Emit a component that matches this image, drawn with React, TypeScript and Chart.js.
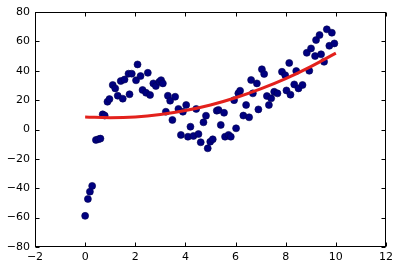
import React, { useEffect, useRef } from 'react';
import { Chart, registerables } from 'chart.js';

Chart.register(...registerables);

const pointX = [
  0.0, 0.11, 0.19, 0.28, 0.43, 0.53, 0.61, 0.7, 0.78, 0.89,
  0.97, 1.1, 1.2, 1.3, 1.42, 1.5, 1.57, 1.73, 1.77, 1.86,
  2.03, 2.09, 2.21, 2.29, 2.43, 2.5, 2.59, 2.72, 2.82, 2.96,
  3.03, 3.1, 3.22, 3.3, 3.39, 3.48, 3.59, 3.72, 3.82, 3.9,
  4.03, 4.1, 4.2, 4.32, 4.43, 4.52, 4.61, 4.72, 4.82, 4.89,
  4.99, 5.09, 5.25, 5.32, 5.41, 5.54, 5.58, 5.72, 5.81, 5.94,
  6.02, 6.11, 6.18, 6.31, 6.42, 6.54, 6.62, 6.69, 6.85, 6.91,
  7.05, 7.14, 7.25, 7.33, 7.42, 7.54, 7.67, 7.85, 7.98, 8.03,
  8.14, 8.19, 8.34, 8.42, 8.51, 8.67, 8.84, 8.94, 9.01, 9.17,
  9.21, 9.35, 9.41, 9.53, 9.64, 9.74, 9.84, 9.94,
];
const pointY = [
  -58.8, -47.3, -42.3, -38.4, -7.1, -6.6, -6.2, 10.3, 9.5, 18.9,
  20.7, 30.3, 28, 23, 33, 21, 34, 38, 24, 38,
  33.5, 44.3, 36.4, 26.9, 25, 38.6, 23.5, 31.4, 29.6, 32.5,
  33.6, 31.4, 12.1, 23, 19.6, 6.5, 22.3, 14, -3.7, 12.1,
  16.7, -4.9, 1.9, -4.4, 14, -3.1, -8.7, 4.9, 9.4, -12.8,
  -8.3, -6.7, 12.8, 13.3, 3.1, 11.4, -4.9, -3.7, -4.9, 20,
  0.8, 24.6, 26.4, 9.5, 16.7, 8.3, 33.7, 24.6, 31.4, 13.7,
  41, 37.8, 22.8, 16.7, 21.2, 25.7, 24.6, 39.3, 37, 26.6,
  45.3, 23.7, 30.7, 39.8, 28, 30.3, 52.2, 40, 55.2, 50,
  60.9, 64.3, 51.2, 46.1, 68.2, 57, 65.9, 58.6,
];

const fitX = [0, 1, 2, 3, 4, 5, 6, 7, 8, 9, 10];
const fitY = [8.5, 8.0, 8.5, 10.2, 12.9, 16.7, 21.6, 27.6, 34.6, 42.8, 52.0];

const xTicks = [-2, 0, 2, 4, 6, 8, 10, 12];
const yTicks = [-80, -60, -40, -20, 0, 20, 40, 60, 80];

const framePlugin = {
  id: 'frame',
  afterDatasetsDraw(chart: any) {
    const { ctx, chartArea: a, scales } = chart;
    const L = Math.round(a.left) + 0.5;
    const R = Math.round(a.right) - 0.5;
    const T = Math.round(a.top) + 0.5;
    const B = Math.round(a.bottom) - 0.5;
    ctx.save();
    ctx.strokeStyle = '#000';
    ctx.lineWidth = 1;
    ctx.beginPath();
    const len = 4;
    for (const v of xTicks) {
      const px = Math.round(scales.x.getPixelForValue(v)) + 0.5;
      ctx.moveTo(px, B);
      ctx.lineTo(px, B - len);
      ctx.moveTo(px, T);
      ctx.lineTo(px, T + len);
    }
    for (const v of yTicks) {
      const py = Math.round(scales.y.getPixelForValue(v)) + 0.5;
      ctx.moveTo(L, py);
      ctx.lineTo(L + len, py);
      ctx.moveTo(R, py);
      ctx.lineTo(R - len, py);
    }
    ctx.stroke();
    ctx.strokeRect(L, T, R - L, B - T);
    ctx.restore();
  },
};

const fmt = (v: any) => String(v).replace('-', '\u2212');

export default function App() {
  const ref = useRef<HTMLCanvasElement | null>(null);
  useEffect(() => {
    if (!ref.current) return;
    const chart = new Chart(ref.current, {
      type: 'scatter',
      data: {
        datasets: [
          {
            type: 'line',
            data: fitX.map((x, i) => ({ x, y: fitY[i] })),
            borderColor: '#e3211c',
            borderWidth: 3,
            pointRadius: 0,
            tension: 0.4,
            fill: false,
            order: 0,
          } as any,
          {
            type: 'scatter',
            data: pointX.map((x, i) => ({ x, y: pointY[i] })),
            backgroundColor: '#000080',
            borderColor: '#000050',
            borderWidth: 0.6,
            pointRadius: 3.5,
            order: 1,
          },
        ],
      },
      options: {
        responsive: false,
        animation: false,
        events: [],
        layout: { padding: { top: 12, right: 14, left: 0, bottom: 0 } },
        plugins: { legend: { display: false }, tooltip: { enabled: false } },
        scales: {
          x: {
            type: 'linear',
            min: -2,
            max: 12,
            afterBuildTicks: (s: any) => { s.ticks = xTicks.map((v) => ({ value: v })); },
            afterFit: (s: any) => { s.height = 22; },
            grid: { display: false, drawTicks: false },
            border: { display: false },
            ticks: {
              padding: 4,
              color: '#000',
              font: { family: 'DejaVu Sans', size: 11 },
              callback: (v: any) => fmt(v),
              maxRotation: 0,
            },
          },
          y: {
            type: 'linear',
            min: -80,
            max: 80,
            afterBuildTicks: (s: any) => { s.ticks = yTicks.map((v) => ({ value: v })); },
            afterFit: (s: any) => { s.width = 35; },
            grid: { display: false, drawTicks: false },
            border: { display: false },
            ticks: {
              padding: 5,
              color: '#000',
              font: { family: 'DejaVu Sans', size: 11 },
              callback: (v: any) => fmt(v),
            },
          },
        },
      },
      plugins: [framePlugin],
    });
    return () => chart.destroy();
  }, []);
  return (
    <div style={{ position: 'absolute', left: 0, top: 0, width: 400, height: 269, background: '#fff' }}>
      <canvas ref={ref} width={400} height={269} />
    </div>
  );
}
